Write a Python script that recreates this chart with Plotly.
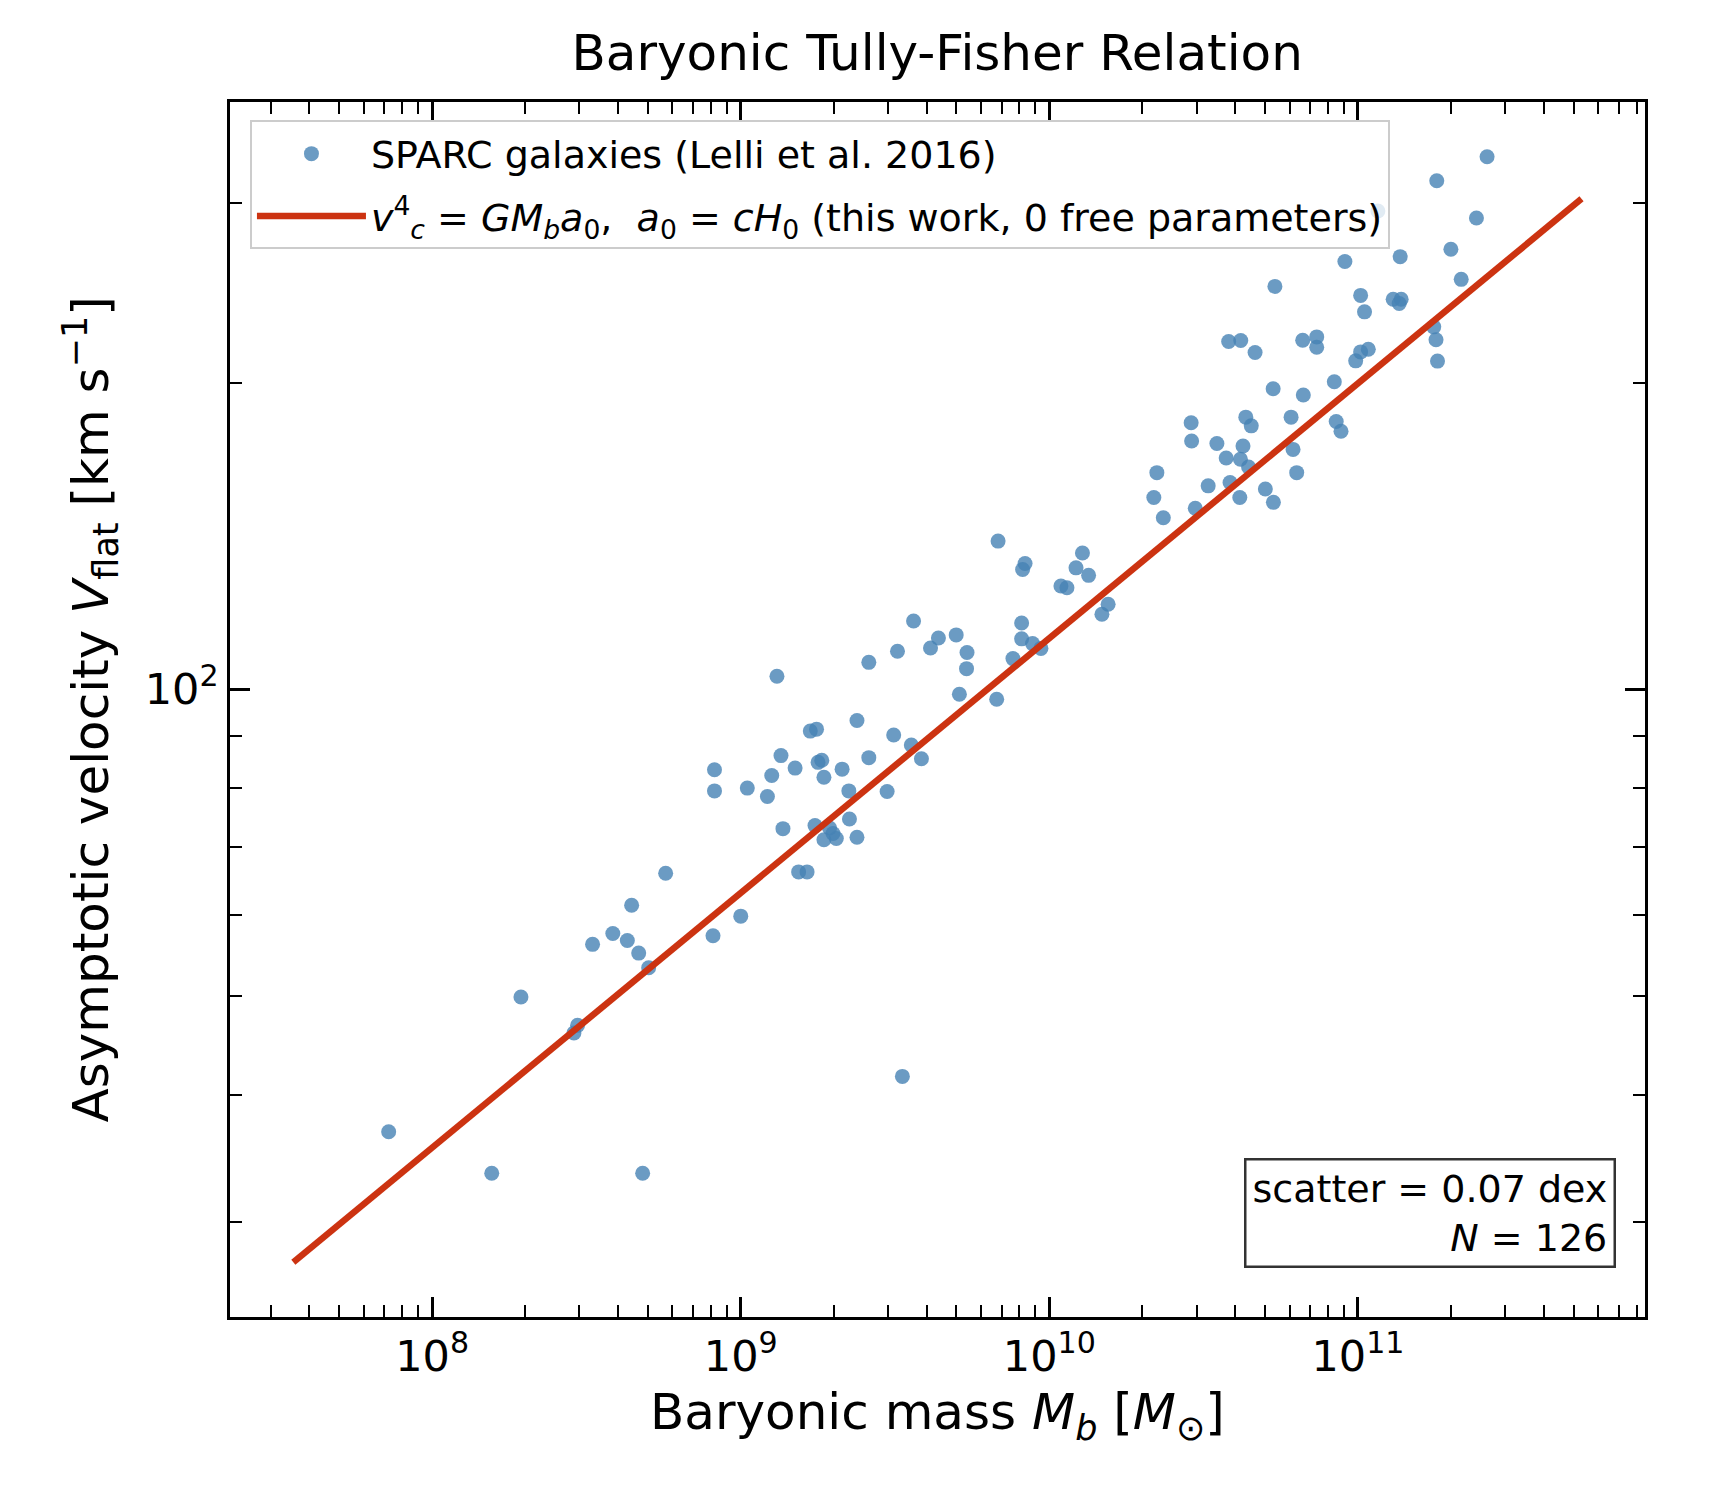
import plotly.graph_objects as go

# ---- data ----
mass_msun = [
    7.23e7, 1.56e8, 4.81e8, 1.94e8, 2.96e8, 2.88e8, 3.31e8, 3.85e8, 4.29e8, 4.67e8, 5.03e8, 4.43e8, 8.13e8,
    5.71e8, 1.00e9, 3.34e9, 1.54e9, 1.64e9, 1.37e9, 1.74e9, 1.94e9, 1.99e9, 2.25e9, 1.86e9, 2.04e9, 2.38e9,
    8.22e8, 8.22e8, 1.05e9, 1.22e9, 1.26e9, 1.50e9, 1.35e9, 1.83e9, 1.78e9, 1.86e9, 2.13e9, 2.24e9, 2.98e9, 2.60e9,
    1.68e9, 1.76e9, 2.38e9, 3.13e9, 3.57e9, 3.85e9, 1.31e9, 2.60e9, 3.22e9, 3.63e9, 4.99e9, 4.37e9, 4.12e9,
    5.41e9, 5.39e9, 5.11e9, 6.75e9,
    8.13e9, 8.13e9, 8.82e9, 9.39e9, 7.62e9, 1.48e10, 1.55e10, 1.09e10, 1.14e10, 1.34e10, 1.22e10, 1.28e10,
    8.34e9, 8.19e9, 6.82e9,
    2.18e10, 2.34e10, 3.27e10, 2.97e10, 4.14e10, 5.01e10, 5.32e10, 3.85e10,
    2.23e10, 3.74e10, 4.16e10, 4.42e10, 3.49e10, 4.24e10, 2.88e10, 2.89e10, 4.33e10, 4.51e10, 6.07e10, 6.16e10, 6.33e10,
    5.31e10, 6.65e10, 8.38e10, 8.50e10, 8.81e10, 3.81e10, 4.17e10, 4.64e10, 6.62e10, 7.35e10, 7.35e10, 9.83e10,
    1.02e11, 1.08e11, 1.05e11, 1.02e11,
    1.76e11, 1.79e11, 1.81e11, 1.30e11, 1.38e11, 1.36e11, 2.16e11, 2.00e11, 1.37e11, 9.07e10, 1.16e11, 2.42e11,
    1.80e11, 2.62e11, 5.38e10,
]
vflat_kms = [
    36.8, 33.5, 33.5, 49.9, 46.8, 46.0, 56.2, 57.6, 56.7, 55.1, 53.3, 61.4, 57.3,
    66.0, 59.9, 41.7, 66.2, 66.2, 73.0, 73.5, 73.1, 72.2, 74.6, 71.2, 71.4, 71.6,
    83.4, 79.5, 80.0, 78.5, 82.3, 83.7, 86.1, 85.2, 84.8, 82.0, 83.5, 79.5, 79.4, 85.7,
    91.0, 91.4, 93.2, 90.2, 88.2, 85.5, 103.0, 106.3, 109.0, 116.7, 113.1, 112.3, 109.8,
    108.7, 104.8, 98.9, 97.8,
    116.2, 112.1, 110.9, 109.7, 107.2, 118.5, 121.2, 126.3, 125.8, 129.4, 131.6, 136.1,
    132.9, 131.1, 139.8,
    154.3, 147.4, 158.4, 150.6, 154.3, 157.3, 152.6, 159.6,
    163.2, 168.7, 168.2, 165.3, 174.3, 173.3, 182.7, 175.3, 185.0, 181.4, 185.0, 172.0, 163.2,
    197.3, 194.5, 200.4, 183.2, 179.2, 219.5, 220.0, 214.1, 220.1, 221.8, 216.7, 210.1,
    214.4, 215.7, 234.7, 243.6,
    226.9, 220.4, 210.0, 241.5, 241.5, 239.2, 252.6, 270.4, 265.9, 263.0, 294.8, 290.2,
    315.7, 333.3, 248.6,
]

# model line v^4 = G M a0 (end points)
line_mass = [3.55e7, 5.3e11]
line_vel = [27.4, 303.0]

x_tick_vals = [1e8, 1e9, 1e10, 1e11]
x_tick_text = ["10<sup>8</sup>", "10<sup>9</sup>", "10<sup>10</sup>", "10<sup>11</sup>"]
y_tick_vals = [100]
y_tick_text = ["10<sup>2</sup>"]
x_minor_vals = [3e7, 4e7, 5e7, 6e7, 7e7, 8e7, 9e7,
                2e8, 3e8, 4e8, 5e8, 6e8, 7e8, 8e8, 9e8,
                2e9, 3e9, 4e9, 5e9, 6e9, 7e9, 8e9, 9e9,
                2e10, 3e10, 4e10, 5e10, 6e10, 7e10, 8e10, 9e10,
                2e11, 3e11, 4e11, 5e11, 6e11, 7e11, 8e11]
y_minor_vals = [30, 40, 50, 60, 70, 80, 90, 200, 300]

FONT = "DejaVu Sans"

fig = go.Figure()
fig.add_trace(go.Scatter(
    x=mass_msun, y=vflat_kms, mode="markers",
    name="SPARC galaxies (Lelli et al. 2016)",
    marker=dict(size=15, color="rgba(70,130,180,0.8)", line=dict(width=0)),
    legendgroup="a",
))
fig.add_trace(go.Scatter(
    x=line_mass, y=line_vel, mode="lines",
    name=("<i>v</i><sup>4</sup><sub><i>c</i></sub> = <i>GM</i><sub><i>b</i></sub>"
          "<i>a</i><sub>0</sub>,&nbsp;&nbsp;<i>a</i><sub>0</sub> = <i>cH</i><sub>0</sub>"
          " (this work, 0 free parameters)"),
    line=dict(color="#cc3311", width=6.5),
    legendgroup="b",
))

axis_common = dict(
    type="log", showline=True, linecolor="black", linewidth=2.5, mirror="allticks",
    ticks="inside", ticklen=20, tickwidth=2.5, tickcolor="black",
    showgrid=False, zeroline=False,
    tickfont=dict(family=FONT, size=43, color="black"),
)

fig.update_xaxes(
    **axis_common, range=[7.345, 11.93], tickmode="array",
    tickvals=x_tick_vals, ticktext=x_tick_text,
    minor=dict(tickmode="array", tickvals=x_minor_vals, ticks="inside",
               ticklen=12, tickwidth=2, tickcolor="black", showgrid=False),
)
fig.update_yaxes(
    **axis_common, range=[1.384, 2.5765], tickmode="array",
    tickvals=y_tick_vals, ticktext=y_tick_text,
    minor=dict(tickmode="array", tickvals=y_minor_vals, ticks="inside",
               ticklen=12, tickwidth=2, tickcolor="black", showgrid=False),
)

fig.update_layout(
    width=1718, height=1496,
    margin=dict(l=230, r=73, t=102, b=179),
    paper_bgcolor="white", plot_bgcolor="white",
    font=dict(family=FONT, color="black"),
    title=dict(text="Baryonic Tully-Fisher Relation", x=0.5455, xanchor="center",
               y=0.965, yanchor="middle", font=dict(family=FONT, size=50, color="black")),
    showlegend=True,
    legend=dict(x=0.0141, y=0.9848, xanchor="left", yanchor="top",
                bgcolor="rgba(255,255,255,0.8)", bordercolor="#cccccc", borderwidth=2,
                font=dict(family=FONT, size=38, color="black"),
                tracegroupgap=10, itemwidth=109),
    annotations=[
        dict(text="Baryonic mass <i>M</i><sub><i>b</i></sub> [<i>M</i><sub>⊙</sub>]",
             xref="paper", yref="paper", x=0.5, y=-0.0814, xanchor="center", yanchor="middle",
             showarrow=False, font=dict(family=FONT, size=50, color="black")),
        dict(text="Asymptotic velocity <i>V</i><sub>flat</sub> [km s<sup>−1</sup>]",
             xref="paper", yref="paper", x=-0.0989, y=0.5, xanchor="center", yanchor="middle",
             textangle=-90, showarrow=False, font=dict(family=FONT, size=50, color="black")),
        dict(text="scatter = 0.07 dex<br><i>N</i> = 126",
             xref="paper", yref="paper", x=0.9795, y=0.0403, xanchor="right", yanchor="bottom",
             align="right", showarrow=False, bgcolor="white", bordercolor="#333333",
             borderwidth=2.5, borderpad=6, font=dict(family=FONT, size=38, color="black")),
    ],
)

fig.write_html("out.html")
